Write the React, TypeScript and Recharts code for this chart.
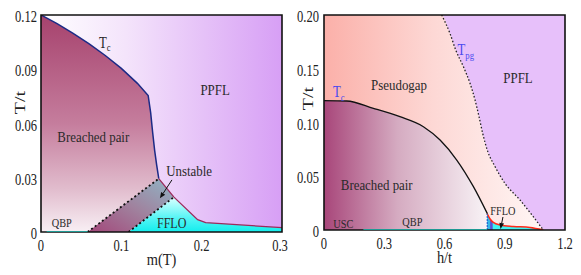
import React from 'react';
import { ComposedChart, Area, Line, XAxis, YAxis, ReferenceArea, ReferenceDot, ReferenceLine } from 'recharts';

const FONT = "'Liberation Serif', 'DejaVu Serif', serif";

// ---- left panel: T/t against m(T)
const mTicks = [0, 0.1, 0.2, 0.3];
const tTicksLeft = [0, 0.03, 0.06, 0.09, 0.12];
const tcLeft = [
  { x: 0, y: 0.12 }, { x: 0.02, y: 0.1152 }, { x: 0.04, y: 0.1098 }, { x: 0.06, y: 0.104 },
  { x: 0.08, y: 0.0976 }, { x: 0.1, y: 0.0905 }, { x: 0.12, y: 0.0822 }, { x: 0.1334, y: 0.0755 },
  { x: 0.1365, y: 0.066 }, { x: 0.139, y: 0.055 }, { x: 0.1415, y: 0.045 }, { x: 0.144, y: 0.037 },
  { x: 0.1466, y: 0.0295 },
];
const unstableLeft = [
  { x: 0.058, r: [0, 0] }, { x: 0.109, r: [0, 0.017] },
  { x: 0.1466, r: [0.0128, 0.0295] }, { x: 0.1655, r: [0.0193, 0.0193] },
];
const ffloLeft = [
  { x: 0.109, y: 0 }, { x: 0.1466, y: 0.0128 }, { x: 0.1655, y: 0.0193 },
  { x: 0.195, y: 0.0068 }, { x: 0.205, y: 0.0052 }, { x: 0.3, y: 0.0024 },
];
const firstOrderLeft = [
  { x: 0.1466, y: 0.0295 }, { x: 0.1655, y: 0.0193 }, { x: 0.195, y: 0.0068 },
  { x: 0.205, y: 0.0052 }, { x: 0.3, y: 0.0024 },
];
const edgeA = [{ x: 0.058, y: 0 }, { x: 0.1466, y: 0.0295 }];
const edgeB = [{ x: 0.109, y: 0 }, { x: 0.1655, y: 0.0193 }];
const qbpLeft = [{ x: 0.007, y: 0 }, { x: 0.058, y: 0 }];

// ---- right panel: T/t against h/t
const hTicks = [0, 0.3, 0.6, 0.9, 1.2];
const tTicksRight = [0, 0.05, 0.1, 0.15, 0.2];
const tpgRight = [
  { x: 0.586, y: 0.2 }, { x: 0.627, y: 0.183 }, { x: 0.656, y: 0.1674 }, { x: 0.694, y: 0.152 },
  { x: 0.727, y: 0.1365 }, { x: 0.752, y: 0.121 }, { x: 0.772, y: 0.1054 }, { x: 0.79, y: 0.09 },
  { x: 0.813, y: 0.0744 }, { x: 0.852, y: 0.0589 }, { x: 0.901, y: 0.0434 }, { x: 0.976, y: 0.0279 },
  { x: 1.042, y: 0.0124 }, { x: 1.092, y: 0 },
];
const pseudogapRight = [{ x: 0, y: 0.2 }, ...tpgRight];
const tcRight = [
  { x: 0, y: 0.1203 }, { x: 0.113, y: 0.12 }, { x: 0.246, y: 0.1132 }, { x: 0.378, y: 0.1054 },
  { x: 0.495, y: 0.0961 }, { x: 0.578, y: 0.0837 }, { x: 0.661, y: 0.0651 }, { x: 0.744, y: 0.0403 },
  { x: 0.814, y: 0.015 },
];
const ffloRight = [
  { x: 0.813, y: 0.015 }, { x: 0.827, y: 0.0102 }, { x: 0.843, y: 0.007 }, { x: 0.876, y: 0.0047 },
  { x: 0.943, y: 0.0033 }, { x: 1.026, y: 0.0023 }, { x: 1.092, y: 0 },
];
const stripBlue = [{ x: 0.813, y: 0.015 }, { x: 0.827, y: 0.0102 }];
const stripViolet = [{ x: 0.827, y: 0.0102 }, { x: 0.84, y: 0.0075 }];
const qbpRight = [{ x: 0.196, y: 0 }, { x: 0.813, y: 0 }];

const fmt = (d: number) => (v: number) => (v === 0 ? '0' : v.toFixed(d));

const Tick = ({ x, y, payload, side, f }: any) =>
  side === 'x' ? (
    <text transform={`translate(${x},${y + 19}) scale(0.74,1)`} textAnchor="middle" fontSize={17} fontFamily={FONT} fill="#222">
      {f(payload.value)}
    </text>
  ) : (
    <text transform={`translate(${x},${y + 7}) scale(0.74,1)`} textAnchor="end" fontSize={17} fontFamily={FONT} fill="#222">
      {f(payload.value)}
    </text>
  );

const XTitle = ({ viewBox, t }: any) => (
  <text transform={`translate(${viewBox.x + viewBox.width / 2},${viewBox.y + 33}) scale(0.9,1)`} textAnchor="middle" fontSize={16} fontFamily={FONT} fill="#222">
    {t}
  </text>
);
const YTitle = ({ viewBox, t, bx, dy }: any) => (
  <text transform={`translate(${viewBox.x + bx},${viewBox.y + viewBox.height / 2 + dy}) rotate(-90) scale(1,0.74)`} textAnchor="middle" fontSize={20} fontFamily={FONT} fill="#222">
    {t}
  </text>
);

const Tag = ({ viewBox, t, s, fs = 15, sx = 0.86, c = '#2a2a2a', a = 'middle' }: any) => (
  <text transform={`translate(${viewBox.x},${viewBox.y}) scale(${sx},1)`} textAnchor={a} fontSize={fs} fontFamily={FONT} fill={c}>
    {t}
    {s ? <tspan fontSize={fs * 0.68} dy={fs * 0.22}>{s}</tspan> : null}
  </text>
);

const Arrow = (p: any) => {
  const { x1, y1, x2, y2 } = p;
  const a = Math.atan2(y2 - y1, x2 - x1);
  const L = 6, W = 2.4;
  const bx = x2 - L * Math.cos(a), by = y2 - L * Math.sin(a);
  const pts = `${x2},${y2} ${bx - W * Math.sin(a)},${by + W * Math.cos(a)} ${bx + W * Math.sin(a)},${by - W * Math.cos(a)}`;
  return (
    <g>
      <line x1={x1} y1={y1} x2={bx} y2={by} stroke="#111" strokeWidth={1} />
      <polygon points={pts} fill="#111" />
    </g>
  );
};

const note = (x: number, y: number, el: React.ReactElement) => (
  <ReferenceDot x={x} y={y} r={0} fill="none" stroke="none" label={el} zIndex={2000} />
);

const LeftPanel = () => (
  <ComposedChart width={290} height={275} margin={{ top: 15, right: 8, bottom: 0, left: 0 }}>
    <defs>
      <linearGradient id="lBg" x1="0" y1="0" x2="1" y2="0">
        <stop offset="0" stopColor="#ffffff" />
        <stop offset="0.35" stopColor="#f4e4fb" />
        <stop offset="1" stopColor="#d79ff5" />
      </linearGradient>
      <linearGradient id="lPair" x1="0" y1="0" x2="0" y2="1">
        <stop offset="0" stopColor="#a6426d" />
        <stop offset="0.5" stopColor="#c57d9d" />
        <stop offset="0.8" stopColor="#e1bccd" />
        <stop offset="1" stopColor="#f8eff4" />
      </linearGradient>
      <linearGradient id="lUnst" x1="0" y1="1" x2="1" y2="0">
        <stop offset="0" stopColor="#a3477a" />
        <stop offset="0.5" stopColor="#a0829e" />
        <stop offset="1" stopColor="#8fb6c6" />
      </linearGradient>
      <linearGradient id="lFflo" x1="0" y1="0" x2="0" y2="1">
        <stop offset="0" stopColor="#dcffff" />
        <stop offset="0.6" stopColor="#55f5f5" />
        <stop offset="1" stopColor="#12eeee" />
      </linearGradient>
    </defs>
    <XAxis type="number" dataKey="x" domain={[0, 0.3]} ticks={mTicks} allowDataOverflow height={43}
      axisLine={false} tickLine={false} tickSize={0} tickMargin={0}
      tick={<Tick side="x" f={fmt(1)} />} label={<XTitle t="m(T)" />} />
    <YAxis type="number" domain={[0, 0.12]} ticks={tTicksLeft} allowDataOverflow width={41}
      axisLine={false} tickLine={false} tickSize={0} tickMargin={4}
      tick={<Tick side="y" f={fmt(2)} />} label={<YTitle t="T/t" bx={25} dy={-21} />} />
    <ReferenceArea x1={0} x2={0.3} y1={0} y2={0.12} fill="url(#lBg)" stroke="none" fillOpacity={1} zIndex={50} />
    <Area data={tcLeft} dataKey="y" type="linear" fill="url(#lPair)" fillOpacity={1} stroke="none" dot={false} activeDot={false} isAnimationActive={false} />
    <Area data={unstableLeft} dataKey="r" type="linear" fill="url(#lUnst)" fillOpacity={1} stroke="none" dot={false} activeDot={false} isAnimationActive={false} />
    <Area data={ffloLeft} dataKey="y" type="linear" fill="url(#lFflo)" fillOpacity={1} stroke="none" dot={false} activeDot={false} isAnimationActive={false} />
    <Line data={tcLeft} dataKey="y" type="linear" stroke="#1b2a86" strokeWidth={1.5} dot={false} activeDot={false} isAnimationActive={false} />
    <Line data={firstOrderLeft} dataKey="y" type="linear" stroke="#9c2a5c" strokeWidth={1.3} dot={false} activeDot={false} isAnimationActive={false} />
    <Line data={edgeA} dataKey="y" type="linear" stroke="#111" strokeWidth={1.8} strokeDasharray="2 2.5" dot={false} activeDot={false} isAnimationActive={false} />
    <Line data={edgeB} dataKey="y" type="linear" stroke="#111" strokeWidth={1.8} strokeDasharray="2 2.5" dot={false} activeDot={false} isAnimationActive={false} />
    <ReferenceArea x1={0} x2={0.3} y1={0} y2={0.12} fill="none" stroke="#111" strokeWidth={1.6} zIndex={450} />
    <Line data={qbpLeft} dataKey="y" type="linear" stroke="#1f9a94" strokeWidth={2} dot={false} activeDot={false} isAnimationActive={false} zIndex={460} />
    <ReferenceLine segment={[{ x: 0.163, y: 0.0288 }, { x: 0.148, y: 0.0186 }]} shape={Arrow} ifOverflow="visible" zIndex={470} />
    {note(0.0722, 0.1018, <Tag t="T" s="c" fs={16} sx={0.8} a="start" />)}
    {note(0.2167, 0.0758, <Tag t="PPFL" />)}
    {note(0.0651, 0.0498, <Tag t="Breached pair" />)}
    {note(0.1843, 0.031, <Tag t="Unstable" />)}
    {note(0.1627, 0.0022, <Tag t="FFLO" fs={14} />)}
    {note(0.0258, 0.0028, <Tag t="QBP" fs={12} />)}
  </ComposedChart>
);

const RightPanel = () => (
  <ComposedChart width={291} height={275} margin={{ top: 15, right: 16, bottom: 0, left: 0 }}>
    <defs>
      <linearGradient id="rPg" x1="0" y1="0" x2="1" y2="0">
        <stop offset="0" stopColor="#fbb0a9" />
        <stop offset="0.5" stopColor="#fdd8d5" />
        <stop offset="1" stopColor="#fff6f5" />
      </linearGradient>
      <linearGradient id="rPair" x1="0" y1="0" x2="1" y2="0">
        <stop offset="0" stopColor="#a8467a" />
        <stop offset="0.45" stopColor="#d5abc1" />
        <stop offset="1" stopColor="#f8f3f6" />
      </linearGradient>
    </defs>
    <XAxis type="number" dataKey="x" domain={[0, 1.2]} ticks={hTicks} allowDataOverflow height={45}
      axisLine={false} tickLine={false} tickSize={0} tickMargin={0}
      tick={<Tick side="x" f={fmt(1)} />} label={<XTitle t="h/t" />} />
    <YAxis type="number" domain={[0, 0.2]} ticks={tTicksRight} allowDataOverflow width={34}
      axisLine={false} tickLine={false} tickSize={0} tickMargin={5}
      tick={<Tick side="y" f={fmt(2)} />} label={<YTitle t="T/t" bx={23} dy={-24} />} />
    <ReferenceArea x1={0} x2={1.2} y1={0} y2={0.2} fill="#e7c0fa" stroke="none" fillOpacity={1} zIndex={50} />
    <Area data={pseudogapRight} dataKey="y" type="monotone" fill="url(#rPg)" fillOpacity={1} stroke="none" dot={false} activeDot={false} isAnimationActive={false} />
    <Area data={tcRight} dataKey="y" type="monotone" fill="url(#rPair)" fillOpacity={1} stroke="none" dot={false} activeDot={false} isAnimationActive={false} />
    <Area data={ffloRight} dataKey="y" type="monotone" fill="#40f2f2" fillOpacity={1} stroke="none" dot={false} activeDot={false} isAnimationActive={false} />
    <Area data={stripBlue} dataKey="y" type="linear" fill="#36b6e6" fillOpacity={1} stroke="none" dot={false} activeDot={false} isAnimationActive={false} />
    <Area data={stripViolet} dataKey="y" type="linear" fill="#5a52d6" fillOpacity={1} stroke="none" dot={false} activeDot={false} isAnimationActive={false} />
    <Line data={tpgRight} dataKey="y" type="monotone" stroke="#222" strokeWidth={1.3} strokeDasharray="1.5 2" dot={false} activeDot={false} isAnimationActive={false} />
    <Line data={tcRight} dataKey="y" type="monotone" stroke="#111" strokeWidth={1.3} dot={false} activeDot={false} isAnimationActive={false} />
    <Line data={ffloRight} dataKey="y" type="monotone" stroke="#ff2a1a" strokeWidth={1.5} dot={false} activeDot={false} isAnimationActive={false} />
    <ReferenceLine segment={[{ x: 0.813, y: 0 }, { x: 0.813, y: 0.015 }]} stroke="#2060d0" strokeWidth={1.2} strokeDasharray="2 1" zIndex={420} />
    <ReferenceArea x1={0} x2={1.2} y1={0} y2={0.2} fill="none" stroke="#111" strokeWidth={1.6} zIndex={450} />
    <Line data={qbpRight} dataKey="y" type="linear" stroke="#1f9a94" strokeWidth={2} dot={false} activeDot={false} isAnimationActive={false} zIndex={460} />
    <ReferenceLine segment={[{ x: 0.891, y: 0.0121 }, { x: 0.879, y: 0.0009 }]} shape={Arrow} ifOverflow="visible" zIndex={470} />
    {note(0.045, 0.1237, <Tag t="T" s="c" fs={16} sx={0.8} a="start" c="#4b4bef" />)}
    {note(0.665, 0.1628, <Tag t="T" s="pg" fs={16} sx={0.8} a="start" c="#4b4bef" />)}
    {note(0.3735, 0.1302, <Tag t="Pseudogap" />)}
    {note(0.966, 0.1367, <Tag t="PPFL" />)}
    {note(0.2625, 0.0372, <Tag t="Breached pair" />)}
    {note(0.096, 0.0019, <Tag t="USC" fs={12} />)}
    {note(0.44, 0.0037, <Tag t="QBP" fs={12} />)}
    {note(0.891, 0.014, <Tag t="FFLO" fs={12} />)}
  </ComposedChart>
);

export default function App() {
  return (
    <div style={{ position: 'absolute', left: 0, top: 0, width: 581, height: 275, display: 'flex', background: '#fff' }}>
      <LeftPanel />
      <RightPanel />
    </div>
  );
}
